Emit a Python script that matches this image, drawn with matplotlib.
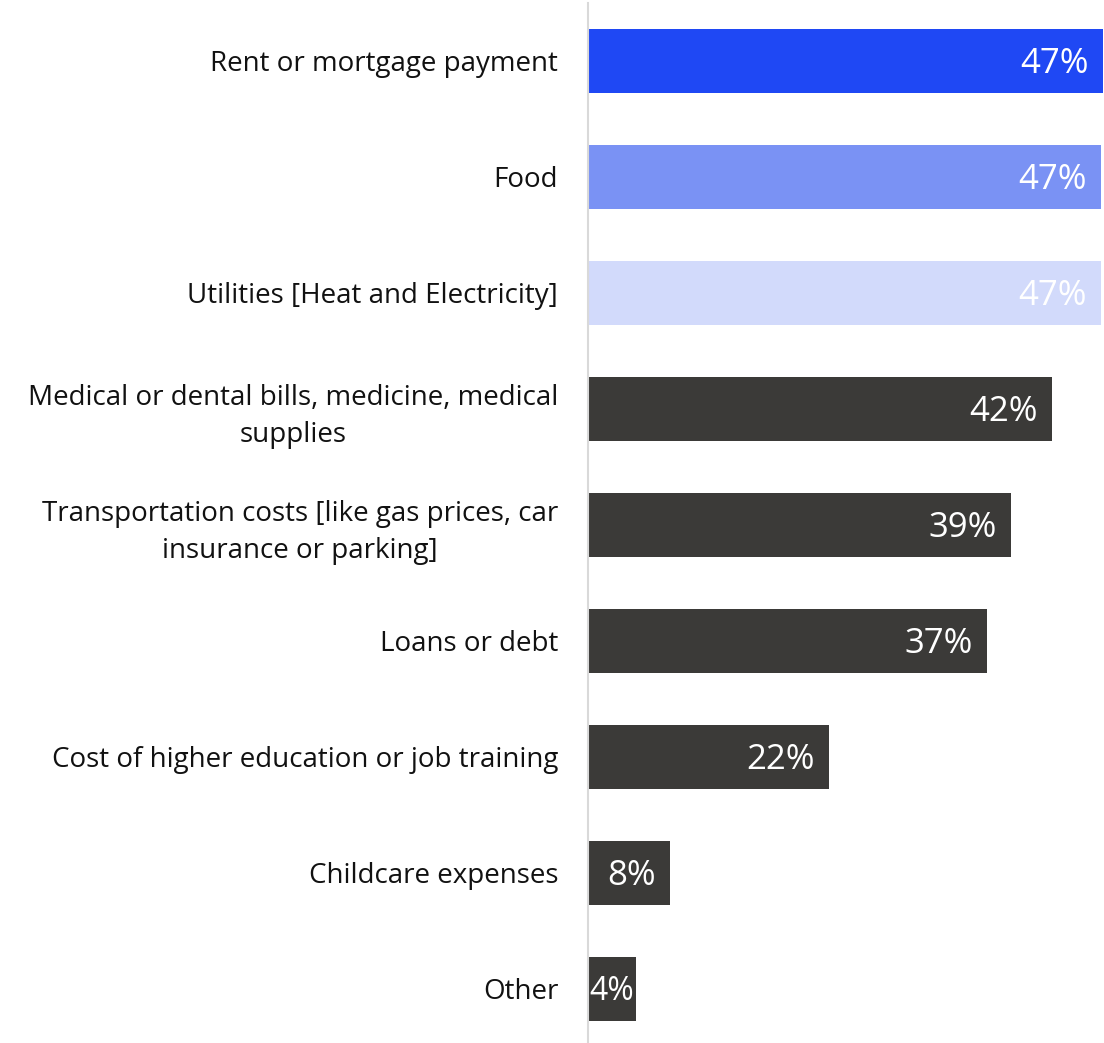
import matplotlib
matplotlib.use('Agg')
import matplotlib.pyplot as plt

# --Datos
categories = ['Rent or mortgage payment', 'Food', 'Utilities [Heat and Electricity]',
              'Medical or dental bills, medicine, medical\nsupplies',
              'Transportation costs [like gas prices, car\ninsurance or parking]',
              'Loans or debt', 'Cost of higher education or job training',
              'Childcare expenses', 'Other']
values = [47.2, 47.0, 47.0, 42.5, 38.8, 36.6, 22.1, 7.5, 4.4]
value_labels = ['47%', '47%', '47%', '42%', '39%', '37%', '22%', '8%', '4%']
colors = ['#1F48F4', '#7A92F4', '#D2DAFB'] + ['#3B3A38'] * 6

plt.rcParams['font.family'] = ['Open Sans', 'DejaVu Sans']

fig = plt.figure(figsize=(11.04, 10.43), dpi=100)
W, H = 1104, 1043
ax = fig.add_axes([588 / W, 0, (W - 588) / W, 1 - 3 / H])

y = list(range(len(categories)))
ax.barh(y, values, height=0.55, color=colors)
ax.set_xlim(0, 47.3)
ax.set_ylim(8.466, -0.5)

# --Etiquetas de valores
for i, (v, lab) in enumerate(zip(values, value_labels)):
    if v < 6:
        ax.annotate(lab, (0, i), xytext=(1, -3), textcoords='offset pixels',
                    ha='left', va='center', color='white', fontsize=23)
    else:
        ax.annotate(lab, (v, i), xytext=(-14, -3), textcoords='offset pixels',
                    ha='right', va='center', color='white', fontsize=25)

# --Etiquetas de categorias
ax.set_yticks(y)
ax.set_yticklabels(categories, fontsize=20, color='#111111', multialignment='center',
                   linespacing=1.4)
ax.tick_params(axis='y', length=0, pad=21.5)
ax.set_xticks([])

for s in ['top', 'right', 'bottom']:
    ax.spines[s].set_visible(False)
ax.spines['left'].set_color('#D9D9D9')
ax.spines['left'].set_linewidth(1.5)

fig.savefig('out.png', dpi=100)
